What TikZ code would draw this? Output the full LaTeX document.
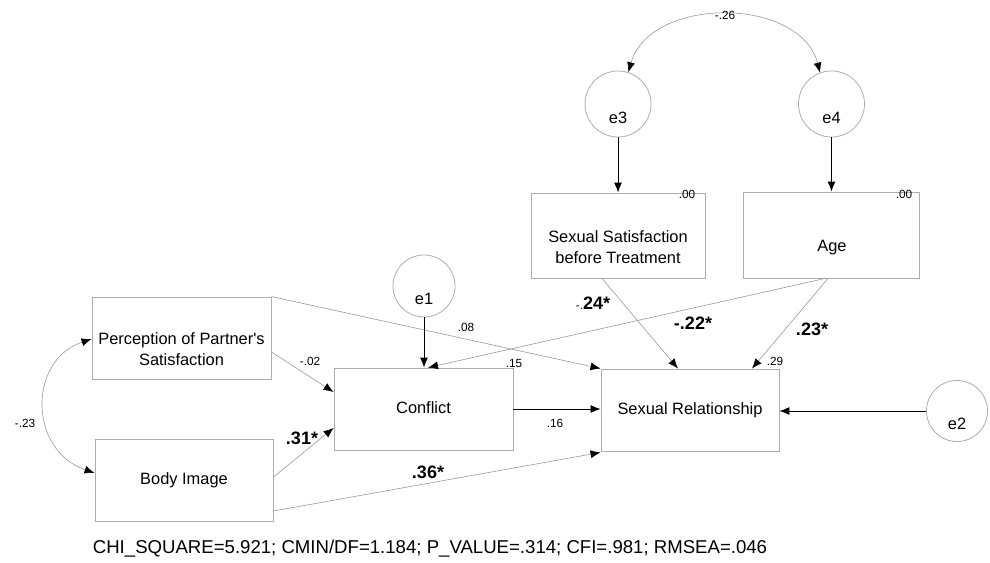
\documentclass[tikz,border=0pt]{standalone}
\usepackage{fontspec}
\setmainfont{Liberation Sans}
\usetikzlibrary{arrows.meta}
\begin{document}
\begin{tikzpicture}[x=1pt,y=-1pt,
  box/.style={draw=black!32, line width=0.9pt, rectangle, inner sep=0pt},
  txt/.style={font=\fontsize{16.4}{21}\selectfont, align=center, inner sep=0pt},
  errc/.style={draw=black!32, line width=0.8pt, circle, inner sep=0pt},
  sm/.style={font=\fontsize{11.8}{13}\selectfont, inner sep=0pt},
  bl/.style={font=\fontsize{18}{20}\selectfont\bfseries, inner sep=0pt},
  gp/.style={draw=black!40, line width=0.6pt, -{Latex[length=10pt,width=8pt,color=black]}},
  kp/.style={draw=black, line width=0.9pt, -{Latex[length=10pt,width=8pt]}},
  cov/.style={draw=black!40, line width=0.6pt, {Latex[length=10pt,width=8pt,color=black]}-{Latex[length=10pt,width=8pt,color=black]}}
]
\useasboundingbox (0,0) rectangle (990,562);
% boxes
\node[box, minimum width=179pt, minimum height=82pt] (pps) at (181.5,338) {};
\node[txt] (ppst) at (181.5,349) {Perception of Partner\textquotesingle s\\Satisfaction};
\node[box, minimum width=178pt, minimum height=82pt] (bi) at (184,480) {};
\node[txt] (bit) at (184,480) {Body Image};
\node[box, minimum width=179pt, minimum height=82pt] (cf) at (423.5,409) {};
\node[txt] (cft) at (423.5,408) {Conflict};
\node[box, minimum width=178pt, minimum height=82pt] (sr) at (690,410) {};
\node[txt] (srt) at (690,410) {Sexual Relationship};
\node[box, minimum width=174pt, minimum height=85pt] (ss) at (618,235.5) {};
\node[txt] (sst) at (618,247) {Sexual Satisfaction\\before Treatment};
\node[box, minimum width=176pt, minimum height=86pt] (age) at (831,235) {};
\node[txt] (aget) at (832,248) {Age};
% error circles
\node[errc, minimum size=66pt] (e3) at (618,104) {};
\node[txt] (e3t) at (618,118) {e3};
\node[errc, minimum size=66pt] (e4) at (831.5,104) {};
\node[txt] (e4t) at (831.5,118) {e4};
\node[errc, minimum size=62pt] (e1) at (424,286) {};
\node[txt] (e1t) at (424,299) {e1};
\node[errc, minimum size=61pt] (e2) at (957,411) {};
\node[txt] (e2t) at (957,424) {e2};
% grey paths
\draw[gp] (pps.north east) -- (sr.north west);
\draw[gp] ([yshift=-14pt]pps.east) -- ([yshift=17pt]cf.west);
\draw[gp] ([yshift=3pt]bi.east) -- ([yshift=-19pt]cf.west);
\draw[gp] ([yshift=-31pt]bi.east) -- ([yshift=-1pt]sr.south west);
\draw[gp] ([xshift=-16pt]ss.south) -- ([xshift=-12pt]sr.north);
\draw[gp] ([xshift=-3pt]age.south) -- ([xshift=62pt]sr.north);
\draw[gp] ([xshift=-6pt]age.south) -- ([xshift=4.5pt]cf.north);
% black paths
\draw[kp] (e3.south) -- (ss.north);
\draw[kp] (e4.south) -- (e4.south |- age.north);
\draw[kp] (e1.south) -- (e1.south |- cf.north);
\draw[kp] (cf.east) -- (cf.east -| sr.west);
\draw[kp] (e2.west) -- (e2.west -| sr.east);
% covariances
\draw[cov] (e3.72) .. controls (650,-4) and (800,-4) .. (e4.110);
\draw[cov] ([yshift=-1pt]pps.west) .. controls (28,360) and (28,450) .. ([yshift=7pt]bi.west);
% small labels
\node[sm] (l26) at (725,15) {-.26};
\node[sm] (l23) at (25,423) {-.23};
\node[sm] (l08) at (466,327) {.08};
\node[sm] (l02) at (310,361) {-.02};
\node[sm] (l15) at (514,363) {.15};
\node[sm] (l16) at (555,423) {.16};
\node[sm] (l29) at (775,361) {.29};
\node[sm] (l00a) at (687,194) {.00};
\node[sm] (l00b) at (904,194) {.00};
% bold labels
\node[bl] (l31) at (302,438) {.31*};
\node[bl] (l36) at (428,472) {.36*};
\node[bl] (l22) at (693,323) {-.22*};
\node[bl] (l23b) at (812,329) {.23*};
\node[inner sep=0pt] (l24) at (593,303) {{\fontsize{11.8}{13}\selectfont -.}{\fontsize{18}{20}\selectfont\bfseries 24*}};
% fit
\node[inner sep=0pt, font=\fontsize{18.6}{22}\selectfont] (fit) at (430,549) {CHI\_SQUARE=5.921; CMIN/DF=1.184; P\_VALUE=.314; CFI=.981; RMSEA=.046};
\end{tikzpicture}
\end{document}
